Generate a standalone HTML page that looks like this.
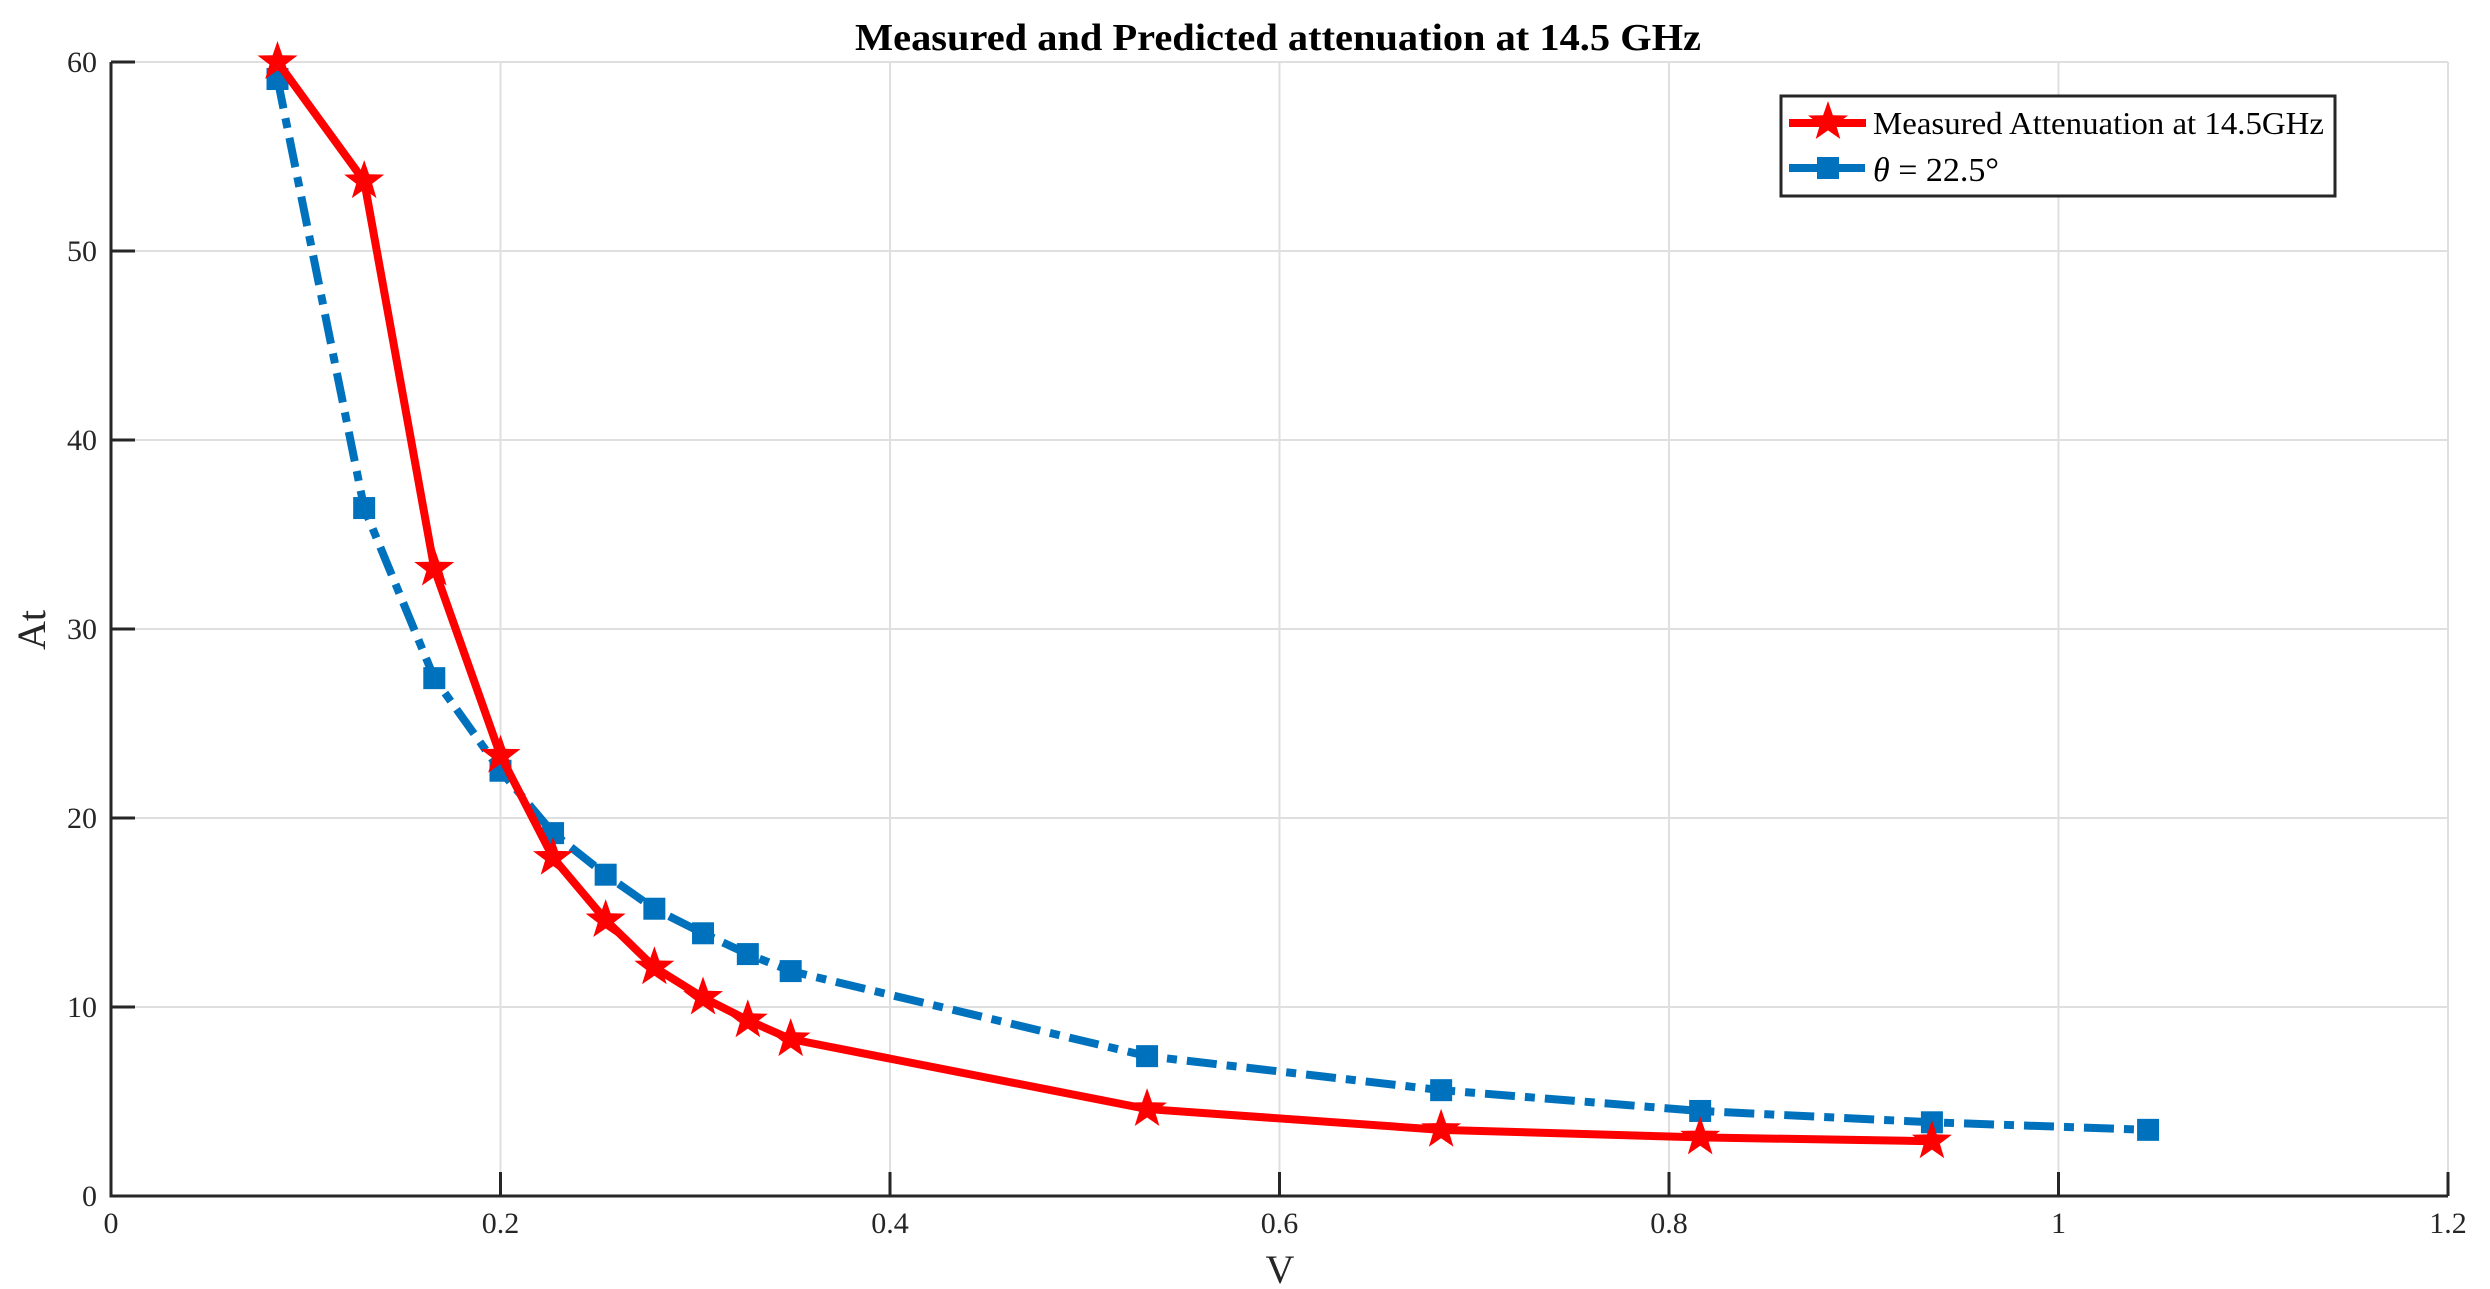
<!DOCTYPE html>
<html><head><meta charset="utf-8"><style>
html,body{margin:0;padding:0;background:#fff;}
svg{display:block;font-family:"Liberation Serif",serif;}
</style></head><body>
<svg id="chart" width="2490" height="1289" viewBox="0 0 2490 1289" xmlns="http://www.w3.org/2000/svg">
<g id="grid"></g>
<g id="axes"></g>
<g id="series"></g>
<text x="1278" y="50" font-size="38" font-weight="bold" text-anchor="middle" fill="#000" textLength="846" lengthAdjust="spacingAndGlyphs">Measured and Predicted attenuation at 14.5 GHz</text>
<text x="1280" y="1283" font-size="40" text-anchor="middle" fill="#262626">V</text>
<text transform="translate(45,630) rotate(-90)" font-size="40" text-anchor="middle" fill="#262626">At</text>
<g>
<rect x="1781" y="96" width="554" height="100" fill="#fff" stroke="#262626" stroke-width="3"/>
<g>
<line x1="1789" y1="123" x2="1866" y2="123" stroke="#ff0000" stroke-width="8"/>
<polygon id="legstar" fill="#ff0000" points=""/>
<text x="1873" y="134" font-size="32" fill="#000" textLength="451" lengthAdjust="spacingAndGlyphs">Measured Attenuation at 14.5GHz</text>
</g>
<g>
<line x1="1789" y1="168" x2="1866" y2="168" stroke="#0072bd" stroke-width="8" stroke-dasharray="30,8,8,0"/>
<rect x="1817" y="157" width="22" height="22" fill="#0072bd"/>
<text x="1873" y="181" font-size="34" fill="#000"><tspan font-style="italic">θ</tspan> = 22.5°</text>
</g>
</g>
</svg>
<script>
const xTicks = [0, 0.2, 0.4, 0.6, 0.8, 1, 1.2];
const xTickLabels = ["0", "0.2", "0.4", "0.6", "0.8", "1", "1.2"];
const yTicks = [0, 10, 20, 30, 40, 50, 60];
const yTickLabels = ["0", "10", "20", "30", "40", "50", "60"];
const measuredV = [0.0855, 0.130, 0.166, 0.200, 0.227, 0.254, 0.279, 0.304, 0.327, 0.349, 0.532, 0.683, 0.816, 0.935];
const measuredAt = [60, 53.7, 33.2, 23.3, 17.9, 14.6, 12.1, 10.5, 9.3, 8.3, 4.6, 3.5, 3.1, 2.9];
const predictedV = [0.0855, 0.130, 0.166, 0.200, 0.227, 0.254, 0.279, 0.304, 0.327, 0.349, 0.532, 0.683, 0.816, 0.935, 1.046];
const predictedAt = [59.1, 36.4, 27.4, 22.5, 19.2, 17.0, 15.2, 13.9, 12.8, 11.9, 7.4, 5.6, 4.5, 3.9, 3.5];

const L = 111, R = 2448, T = 62, B = 1196;
const xs = v => L + (v - 0) / 1.2 * (R - L);
const ys = v => B - (v - 0) / 60 * (B - T);
const NS = "http://www.w3.org/2000/svg";
function mk(tag, attrs, parent) {
  const e = document.createElementNS(NS, tag);
  for (const k in attrs) e.setAttribute(k, attrs[k]);
  parent.appendChild(e);
  return e;
}
const grid = document.getElementById('grid');
const axes = document.getElementById('axes');
const series = document.getElementById('series');

xTicks.forEach((t, i) => {
  const x = xs(t);
  if (i > 0) {
    const g = mk('line', {x1: x, y1: T, x2: x, y2: B, stroke: '#dfdfdf', 'stroke-width': 2}, grid);
    
    
  }
  const tk = mk('line', {x1: x, y1: B, x2: x, y2: B - 24, stroke: '#262626', 'stroke-width': 3}, axes);
  
  
  const lb = mk('text', {x: x, y: 1233, 'font-size': 30, 'text-anchor': 'middle', fill: '#262626'}, axes);
  lb.textContent = xTickLabels[i];
  
  
});
yTicks.forEach((t, i) => {
  const y = ys(t);
  if (i > 0) {
    const g = mk('line', {x1: L, y1: y, x2: R, y2: y, stroke: '#dfdfdf', 'stroke-width': 2}, grid);
    
    
  }
  const tk = mk('line', {x1: L, y1: y, x2: L + 24, y2: y, stroke: '#262626', 'stroke-width': 3}, axes);
  
  
  const lb = mk('text', {x: 97, y: y + 10, 'font-size': 30, 'text-anchor': 'end', fill: '#262626'}, axes);
  lb.textContent = yTickLabels[i];
  
  
});
const ax = mk('polyline', {points: `${L},${T} ${L},${B} ${R},${B}`, fill: 'none', stroke: '#262626', 'stroke-width': 3}, axes);



function starPts(cx, cy, r) {
  const p = [];
  for (let k = 0; k < 10; k++) {
    const rr = k % 2 ? r * 0.4 : r;
    const a = -Math.PI / 2 + k * Math.PI / 5;
    p.push((cx + rr * Math.cos(a)).toFixed(1) + ',' + (cy + rr * Math.sin(a)).toFixed(1));
  }
  return p.join(' ');
}
document.getElementById('legstar').setAttribute('points', starPts(1828, 122, 21));

const bp = predictedV.map((v, i) => xs(v) + ',' + ys(predictedAt[i])).join(' ');
const bl = mk('polyline', {points: bp, fill: 'none', stroke: '#0072bd', 'stroke-width': 8, 'stroke-dasharray': '30,10,10,10', 'stroke-linejoin': 'round'}, series);


predictedV.forEach((v, i) => {
  const m = mk('rect', {x: xs(v) - 11, y: ys(predictedAt[i]) - 11, width: 22, height: 22, fill: '#0072bd'}, series);
  
  
});
const rp = measuredV.map((v, i) => xs(v) + ',' + ys(measuredAt[i])).join(' ');
const rl = mk('polyline', {points: rp, fill: 'none', stroke: '#ff0000', 'stroke-width': 8, 'stroke-linejoin': 'round'}, series);


measuredV.forEach((v, i) => {
  const m = mk('polygon', {points: starPts(xs(v), ys(measuredAt[i]), 21), fill: '#ff0000'}, series);
  
  
});
</script>
</body></html>
